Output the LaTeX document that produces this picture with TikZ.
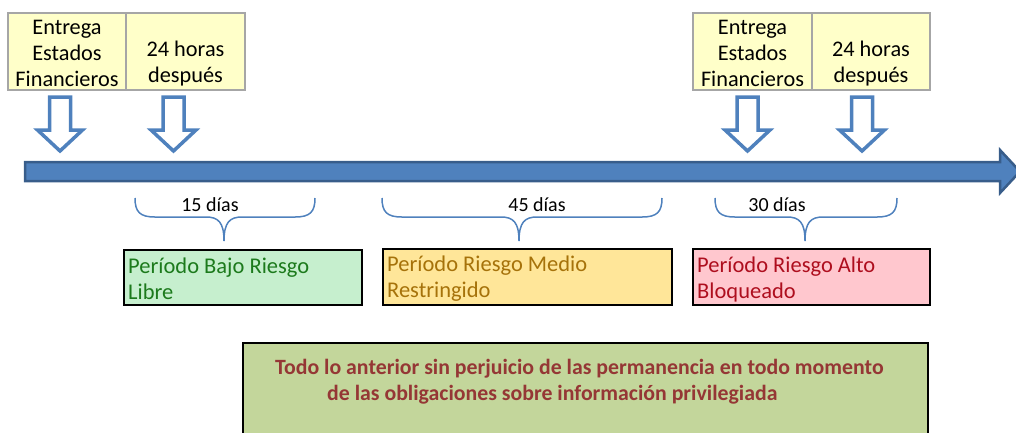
\documentclass[tikz,border=0pt]{standalone}
\usepackage{fontspec}
\setmainfont{Carlito}
\definecolor{topfill}{HTML}{FFFFC9}
\definecolor{topline}{HTML}{A6A6A6}
\definecolor{blueA}{HTML}{4F81BD}
\definecolor{blueB}{HTML}{385D8A}
\definecolor{goodfill}{HTML}{C6EFCE}
\definecolor{goodtext}{HTML}{1C7A1C}
\definecolor{neutfill}{HTML}{FFE699}
\definecolor{neuttext}{HTML}{A6720A}
\definecolor{badfill}{HTML}{FFC7CE}
\definecolor{badtext}{HTML}{AE0E1E}
\definecolor{notefill}{HTML}{C3D69B}
\definecolor{notetext}{HTML}{953735}
\begin{document}
\begin{tikzpicture}[x=1pt,y=-1pt,
  topcell/.style={draw=topline, fill=topfill, line width=1.8pt, inner sep=0pt},
  toptext/.style={align=center, inner sep=0pt, font=\fontsize{22.3}{26}\selectfont},
  harrow/.style={draw=blueA, fill=white, line width=3.5pt, line join=miter},
  brace/.style={draw=blueA, line width=1.5pt},
  bracelabel/.style={inner sep=0pt, font=\fontsize{20}{24}\selectfont},
  period/.style={draw=black, line width=2.5pt, inner sep=0pt},
  periodtext/.style={anchor=west, inner sep=0pt, align=left, font=\fontsize{22.5}{26}\selectfont},
  notetxt/.style={anchor=west, inner sep=0pt, text=notetext, font=\bfseries\fontsize{21.8}{25}\selectfont},
  hollow/.pic={\path[harrow] (-10.5,97) -- (10.5,97) -- (10.5,130) -- (22.5,130) -- (0,151) -- (-22.5,130) -- (-10.5,130) -- cycle;}
]
\useasboundingbox (0,0) rectangle (1016,432);

% top boxes
\node[topcell, minimum width=118pt, minimum height=77pt] (c1) at (67,51.5) {};
\node[topcell, minimum width=119pt, minimum height=77pt] (c2) at (185.5,51.5) {};
\node[toptext] (t1) at (67,53) {Entrega\\Estados\\Financieros};
\node[toptext] (t2) at (185.5,64) {24 horas\\después};

\node[topcell, minimum width=119pt, minimum height=77pt] (c3) at (752.5,51.5) {};
\node[topcell, minimum width=118pt, minimum height=77pt] (c4) at (871,51.5) {};
\node[toptext] (t3) at (752.5,53) {Entrega\\Estados\\Financieros};
\node[toptext] (t4) at (871,64) {24 horas\\después};

% hollow arrows
\pic at (60,0) {hollow};
\pic at (173.5,0) {hollow};
\pic at (747.5,0) {hollow};
\pic at (862,0) {hollow};

% timeline
\path[fill=blueA, draw=blueB, line width=2.5pt, line join=miter]
  (25,162) -- (1000,162) -- (1000,150) -- (1020,171.5) -- (1000,193) -- (1000,181) -- (25,181) -- cycle;

% braces
\draw[brace] (135,198) .. controls (135,212) and (140,217) .. (155,217) -- (206,217)
  .. controls (218,217) and (224,222) .. (224,241)
  .. controls (224,222) and (230,217) .. (242,217) -- (295,217)
  .. controls (310,217) and (315,212) .. (315,198);
\draw[brace] (382,198) .. controls (382,212) and (387,217) .. (402,217) -- (501,217)
  .. controls (513,217) and (519,222) .. (519,241)
  .. controls (519,222) and (525,217) .. (537,217) -- (642,217)
  .. controls (657,217) and (662,212) .. (662,198);
\draw[brace] (715,198) .. controls (715,212) and (720,217) .. (735,217) -- (787,217)
  .. controls (799,217) and (805,222) .. (805,241)
  .. controls (805,222) and (811,217) .. (823,217) -- (877,217)
  .. controls (892,217) and (897,212) .. (897,198);
\node[bracelabel] (l1) at (210,205) {15 días};
\node[bracelabel] (l2) at (537,205) {45 días};
\node[bracelabel] (l3) at (777,205) {30 días};

% period boxes
\node[period, fill=goodfill, minimum width=238pt, minimum height=55pt] (p1) at (243,277.5) {};
\node[period, fill=neutfill, minimum width=289pt, minimum height=56pt] (p2) at (527.5,277) {};
\node[period, fill=badfill, minimum width=237pt, minimum height=56pt] (p3) at (811.5,277) {};
\node[periodtext, text=goodtext] (pt1) at (128,279) {Período Bajo Riesgo\\Libre};
\node[periodtext, text=neuttext] (pt2) at (387,279) {Período Riesgo Medio\\Restringido};
\node[periodtext, text=badtext] (pt3) at (697,279) {Período Riesgo Alto\\Bloqueado};

% note box
\path[draw=black, fill=notefill, line width=2.5pt] (243,343) rectangle (928,437);
\node[notetxt] (n1) at (275,369) {Todo lo anterior sin perjuicio de las permanencia en todo momento};
\node[notetxt] (n2) at (327,395) {de las obligaciones sobre información privilegiada};
\end{tikzpicture}
\end{document}
